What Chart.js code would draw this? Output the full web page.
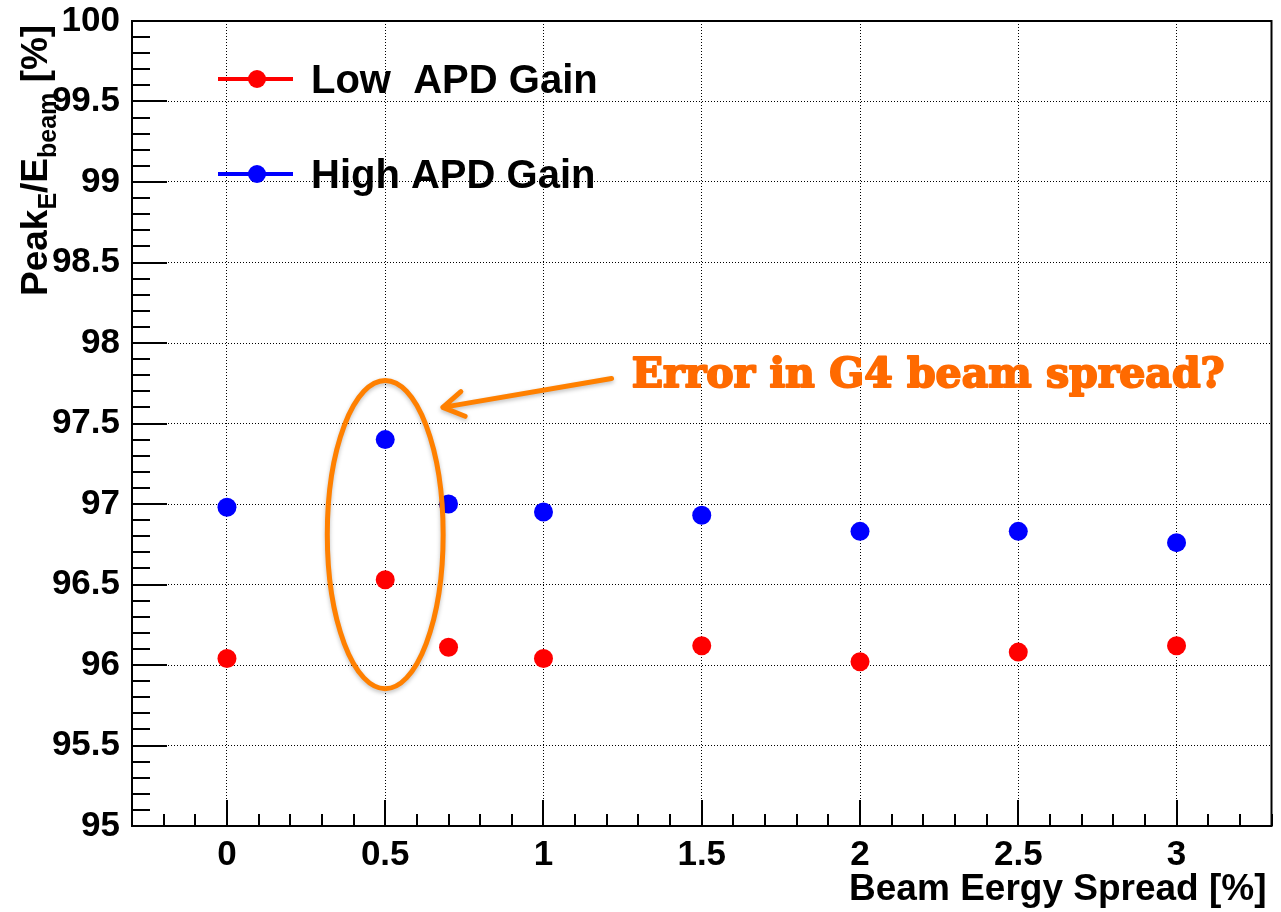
<!DOCTYPE html>
<html>
<head>
<meta charset="utf-8">
<script src="https://cdn.jsdelivr.net/npm/chart.js@4"></script>
<style>
  html, body { margin: 0; padding: 0; background: #fff; }
  #wrap { width: 1281px; height: 912px; }
</style>
</head>
<body>
<div id="wrap"><canvas id="myChart" width="1281" height="912"></canvas></div>
<script>
// beam energy spread [%]
const spread = [0, 0.5, 0.7, 1, 1.5, 2, 2.5, 3];
const lowGain = [96.04, 96.53, 96.11, 96.04, 96.12, 96.02, 96.08, 96.12];
const highGain = [96.98, 97.40, 97.00, 96.95, 96.93, 96.83, 96.83, 96.76];
const xTicks = [0, 0.5, 1, 1.5, 2, 2.5, 3];
const seriesNames = ['Low  APD Gain', 'High APD Gain'];
const noteText = 'Error in G4 beam spread?';

const FONT = '"Liberation Sans", Arial, Helvetica, sans-serif';

function toPoints(xs, ys) {
    return xs.map((x, i) => ({x: x, y: ys[i]}));
}

function plainNumber(value) {
    return String(Math.round(value * 10) / 10);
}

function frameAndTicks(chart) {
    const ctx = chart.ctx;
    const a = chart.chartArea;
    const xs = chart.scales.x, ys = chart.scales.y;
    ctx.save();
    ctx.strokeStyle = '#000';
    ctx.lineWidth = 2;
    // y ticks, inside
    for (let i = 0; i <= 50; i++) {
        const v = 95 + i * 0.1;
        const py = Math.round(ys.getPixelForValue(v));
        const major = i % 5 === 0;
        ctx.beginPath();
        ctx.moveTo(a.left, py);
        ctx.lineTo(a.left + (major ? 35 : 18), py);
        ctx.stroke();
    }
    // x ticks, inside
    for (let i = -3; i <= 33; i++) {
        const v = i / 10;
        const px = Math.round(xs.getPixelForValue(v));
        const major = i % 5 === 0;
        ctx.beginPath();
        ctx.moveTo(px, a.bottom);
        ctx.lineTo(px, a.bottom - (major ? 26 : 12));
        ctx.stroke();
    }
    ctx.strokeRect(a.left, a.top, a.right - a.left, a.bottom - a.top);
    ctx.restore();
}

function axisTitles(chart) {
    const ctx = chart.ctx;
    const a = chart.chartArea;
    ctx.save();
    ctx.fillStyle = '#000';
    // x title, right aligned
    ctx.font = 'bold 37px ' + FONT;
    ctx.textAlign = 'right';
    ctx.textBaseline = 'alphabetic';
    ctx.fillText('Beam Eergy Spread [%]', a.right - 5, 900);

    // y title, rotated, with subscripts
    ctx.translate(47, 296);
    ctx.rotate(-Math.PI / 2);
    ctx.textAlign = 'left';
    const parts = [
        ['Peak', 37, 0], ['E', 25, 9], ['/E', 37, 0], ['beam', 25, 9], [' [%]', 37, 0]
    ];
    let pos = 0;
    parts.forEach(p => {
        ctx.font = 'bold ' + p[1] + 'px ' + FONT;
        ctx.fillText(p[0], pos, p[2]);
        pos += ctx.measureText(p[0]).width;
    });
    ctx.restore();
}

function legendBox(chart) {
    const ctx = chart.ctx;
    const rows = [79, 174];
    ctx.save();
    chart.data.datasets.forEach((ds, i) => {
        const y = rows[i];
        ctx.strokeStyle = ds.borderColor;
        ctx.lineWidth = 4;
        ctx.beginPath();
        ctx.moveTo(218, y);
        ctx.lineTo(293, y);
        ctx.stroke();
        ctx.fillStyle = ds.backgroundColor;
        ctx.beginPath();
        ctx.arc(257, y, 9, 0, Math.PI * 2);
        ctx.fill();
        ctx.fillStyle = '#000';
        ctx.font = 'bold 40px ' + FONT;
        ctx.textBaseline = 'alphabetic';
        ctx.fillText(ds.label, 311, y + 14);
    });
    ctx.restore();
}

function annotation(chart) {
    const ctx = chart.ctx;
    const xs = chart.scales.x, ys = chart.scales.y;
    const orange = '#FF8000';
    ctx.save();
    // ellipse around the 0.5 % points
    const cx = xs.getPixelForValue(0.5);
    const cy = ys.getPixelForValue(96.81);
    const rx = xs.getPixelForValue(0.5 + 0.183) - cx;
    const ry = cy - ys.getPixelForValue(96.81 + 0.957);
    ctx.shadowColor = 'rgba(0,0,0,0.25)';
    ctx.shadowBlur = 4;
    ctx.shadowOffsetY = 2;
    ctx.strokeStyle = orange;
    ctx.lineWidth = 5;
    ctx.beginPath();
    ctx.ellipse(cx, cy, rx, ry, 0, 0, Math.PI * 2);
    ctx.stroke();

    // arrow
    const x0 = xs.getPixelForValue(1.215), y0 = ys.getPixelForValue(97.78);
    const x1 = xs.getPixelForValue(0.682), y1 = ys.getPixelForValue(97.60);
    ctx.lineCap = 'round';
    ctx.lineJoin = 'round';
    ctx.beginPath();
    ctx.moveTo(x0, y0);
    ctx.lineTo(x1, y1);
    const ang = Math.atan2(y0 - y1, x0 - x1);
    const len = 24;
    ctx.moveTo(x1 + len * Math.cos(ang - 0.55), y1 + len * Math.sin(ang - 0.55));
    ctx.lineTo(x1, y1);
    ctx.lineTo(x1 + len * Math.cos(ang + 0.55), y1 + len * Math.sin(ang + 0.55));
    ctx.stroke();

    // note, heavy slab look
    ctx.shadowColor = 'transparent';
    ctx.fillStyle = '#FF6A00';
    ctx.strokeStyle = '#FF6A00';
    ctx.lineWidth = 2;
    ctx.font = 'bold 41px "DejaVu Serif", serif';
    ctx.textBaseline = 'alphabetic';
    const tx = xs.getPixelForValue(1.279), ty = ys.getPixelForValue(97.727);
    ctx.fillText(noteText, tx, ty, 606);
    ctx.strokeText(noteText, tx, ty, 606);
    ctx.restore();
}

const overlay = {
    id: 'overlay',
    afterDatasetsDraw(chart) {
        frameAndTicks(chart);
        axisTitles(chart);
        legendBox(chart);
        annotation(chart);
    }
};

const ctx = document.getElementById('myChart').getContext('2d');

new Chart(ctx, {
    type: 'scatter',
    data: {
        datasets: [{
            label: seriesNames[0],
            data: toPoints(spread, lowGain),
            borderColor: '#FF0000',
            backgroundColor: '#FF0000',
            pointRadius: 9.5,
            pointBorderWidth: 0,
        }, {
            label: seriesNames[1],
            data: toPoints(spread, highGain),
            borderColor: '#0000FF',
            backgroundColor: '#0000FF',
            pointRadius: 9.5,
            pointBorderWidth: 0,
        }]
    },
    options: {
        responsive: false,
        animation: false,
        events: [],
        layout: {padding: {left: 0, right: 6, top: 21, bottom: 0}},
        plugins: {legend: {display: false}, tooltip: {enabled: false}},
        scales: {
            x: {
                type: 'linear',
                position: 'bottom',
                min: -0.3,
                max: 3.3,
                afterBuildTicks: scale => { scale.ticks = xTicks.map(v => ({value: v})); },
                afterFit: scale => {
                    scale.height = 86;
                    scale.paddingLeft = 0;
                    scale.paddingRight = 0;
                },
                grid: {color: '#000', lineWidth: 1, drawTicks: false},
                border: {display: false, dash: [1, 2]},
                ticks: {color: '#000', padding: 8, callback: plainNumber,
                        font: {family: FONT, size: 35, weight: 'bold'}}
            },
            y: {
                min: 95,
                max: 100,
                ticks: {stepSize: 0.5, color: '#000', padding: 12, callback: plainNumber,
                        font: {family: FONT, size: 35, weight: 'bold'}},
                afterFit: scale => {
                    scale.width = 132;
                    scale.paddingTop = 0;
                    scale.paddingBottom = 0;
                },
                grid: {color: '#000', lineWidth: 1, drawTicks: false},
                border: {display: false, dash: [1, 2]}
            }
        }
    },
    plugins: [overlay]
});
</script>
</body>
</html>
